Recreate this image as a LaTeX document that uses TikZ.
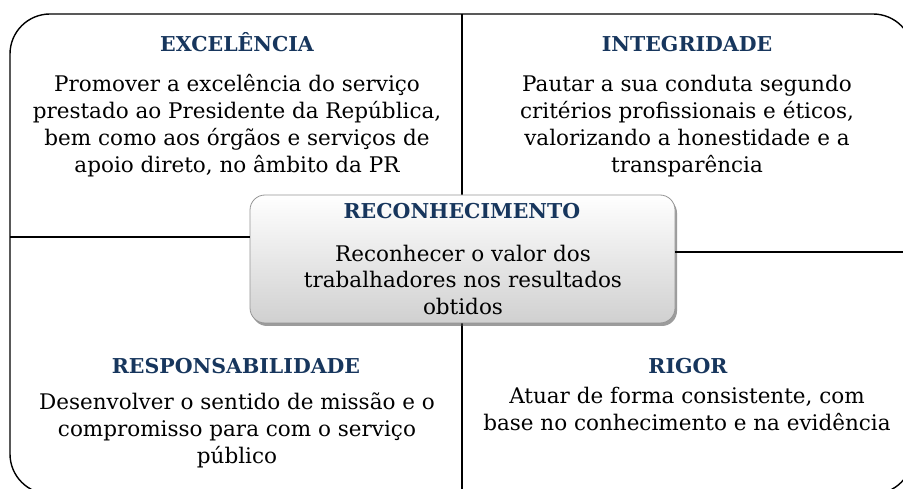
\documentclass[tikz,border=0pt]{standalone}
\usepackage{fontspec}
\usetikzlibrary{shadows}
\newfontfamily\dvserif{DejaVu Serif}
\newcommand\bodyfnt{\dvserif\fontsize{21.5}{26}\selectfont}
\newcommand\titlefnt{\dvserif\bfseries\fontsize{20.5}{24}\selectfont}
\definecolor{titleblue}{RGB}{23,54,93}
\definecolor{boxedge}{RGB}{150,150,150}
\definecolor{boxbottom}{RGB}{208,208,208}
\tikzset{
  bodytxt/.style={font=\bodyfnt, anchor=base, inner sep=0pt, text=black},
  ttl/.style={font=\titlefnt, anchor=base, inner sep=0pt, text=titleblue},
  frame/.style={draw=black, line width=1.4pt},
  divider/.style={draw=black, line width=1.4pt},
  centerbox/.style={draw=boxedge, line width=0.8pt, rounded corners=15pt,
    top color=white, bottom color=boxbottom,
    minimum width=425pt, minimum height=128pt, inner sep=0pt,
    drop shadow={shadow xshift=2pt, shadow yshift=-3pt, opacity=0.55, fill=black!70}}
}
\begin{document}
\begin{tikzpicture}[x=1pt,y=-1pt]
\useasboundingbox (0,0) rectangle (903,489);
\clip (0,0) rectangle (903,489);
\fill[white] (0,0) rectangle (903,489);
% outer frame
\draw[frame, rounded corners=40pt] (10,14) rectangle (913,494);
% divider lines
\coordinate (vtop) at (462,14);
\coordinate (vbot) at (462,494);
\coordinate (hleft) at (10,237);
\coordinate (hright) at (913,252);
\draw[divider] (vtop) -- (vbot);
% center box
\node[centerbox] (cb) at (462.5,259) {};
\draw[divider] (hleft) -- (hleft -| cb.west);
\draw[divider] (cb.east |- hright) -- (hright);
% top left
\node[ttl] (t1) at (237,52) {EXCELÊNCIA};
\node[bodytxt] (t1a) at (237,92) {Promover a excelência do serviço};
\node[bodytxt] (t1b) at (237,119) {prestado ao Presidente da República,};
\node[bodytxt] (t1c) at (237,146) {bem como aos órgãos e serviços de};
\node[bodytxt] (t1d) at (237,173) {apoio direto, no âmbito da PR};
% top right
\node[ttl] (t2) at (687,52) {INTEGRIDADE};
\node[bodytxt] (t2a) at (687,92) {Pautar a sua conduta segundo};
\node[bodytxt] (t2b) at (687,119) {critérios profissionais e éticos,};
\node[bodytxt] (t2c) at (687,146) {valorizando a honestidade e a};
\node[bodytxt] (t2d) at (687,173) {transparência};
% center
\node[ttl] (t3) at (462,219) {RECONHECIMENTO};
\node[bodytxt] (t3a) at (463,262) {Reconhecer o valor dos};
\node[bodytxt] (t3b) at (463,288) {trabalhadores nos resultados};
\node[bodytxt] (t3c) at (463,315) {obtidos};
% bottom left
\node[ttl] (t4) at (236,373) {RESPONSABILIDADE};
\node[bodytxt] (t4a) at (237,409) {Desenvolver o sentido de missão e o};
\node[bodytxt] (t4b) at (237,436) {compromisso para com o serviço};
\node[bodytxt] (t4c) at (237,463) {público};
% bottom right
\node[ttl] (t5) at (688,373) {RIGOR};
\node[bodytxt] (t5a) at (687,403) {Atuar de forma consistente, com};
\node[bodytxt] (t5b) at (687,430) {base no conhecimento e na evidência};
\end{tikzpicture}
\end{document}
